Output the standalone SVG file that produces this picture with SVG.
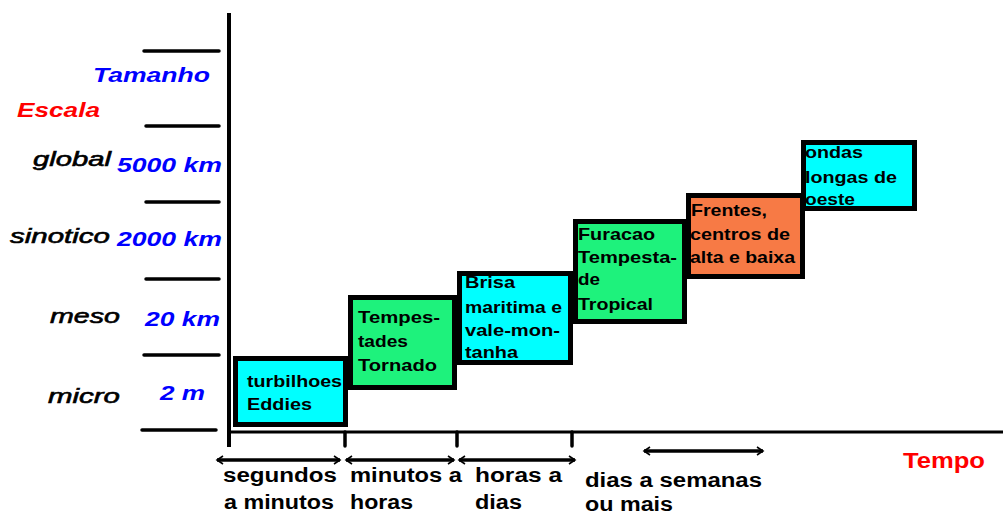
<svg xmlns="http://www.w3.org/2000/svg" width="1003" height="517" viewBox="0 0 1003 517">
<style>
.ax{stroke:#000;stroke-width:4;fill:none;stroke-linecap:butt}
.tk{stroke:#000;stroke-width:3.5;fill:none;stroke-linecap:round}
.ar{stroke:#000;stroke-width:3.5;fill:none;marker-start:url(#chev);marker-end:url(#chev)}
.box{stroke:#000;stroke-width:5}
.cy{fill:#00ffff}
.gr{fill:#1ef27c}
.or{fill:#f77a45}
.bt{font-family:"Liberation Sans",Arial,sans-serif;font-weight:bold;font-size:17px;fill:#000}
.lt{font-family:"Liberation Sans",Arial,sans-serif;font-weight:bold;font-size:20px;fill:#000}
.sc{font-family:"Liberation Sans",Arial,sans-serif;font-style:italic;font-weight:bold;font-size:20px;fill:#0000ff}
.nm{font-family:"Liberation Sans",Arial,sans-serif;font-style:italic;font-size:21px;fill:#000;stroke:#000;stroke-width:0.6}
.rd{font-family:"Liberation Sans",Arial,sans-serif;font-weight:bold;fill:#ff0000}
</style>
<defs>
<marker id="chev" viewBox="-8 -6 10 12" markerWidth="10" markerHeight="12" refX="0" refY="0" orient="auto-start-reverse" markerUnits="userSpaceOnUse">
<path d="M-6,-4 L0,0 L-6,4" fill="none" stroke="#000" stroke-width="1.6"/>
</marker>
</defs>

<g id="connectors">
<line class="ax" x1="229" y1="13" x2="229" y2="447"/>
<line class="ax" x1="229" y1="432" x2="1003" y2="432" style="stroke-width:3"/>
<line class="tk" x1="345" y1="432" x2="345" y2="446"/>
<line class="tk" x1="457" y1="432" x2="457" y2="446"/>
<line class="tk" x1="572" y1="432" x2="572" y2="446"/>
<line class="tk" x1="144" y1="51" x2="219" y2="51"/>
<line class="tk" x1="146" y1="126" x2="219" y2="126"/>
<line class="tk" x1="146" y1="202" x2="219" y2="202"/>
<line class="tk" x1="146" y1="279" x2="219" y2="279"/>
<line class="tk" x1="144" y1="355" x2="219" y2="355"/>
<line class="tk" x1="142" y1="430" x2="216" y2="430"/>
<line class="ar" x1="217" y1="460" x2="340" y2="460"/>
<line class="ar" x1="346" y1="460" x2="454" y2="460"/>
<line class="ar" x1="459" y1="460" x2="575" y2="460"/>
<line class="ar" x1="644" y1="451" x2="763" y2="451"/>
</g>

<g id="axis-labels">
<text class="sc" x="93" y="82" textLength="117" lengthAdjust="spacingAndGlyphs">Tamanho</text>
<text class="rd" x="17" y="117" font-size="20" font-style="italic" textLength="83" lengthAdjust="spacingAndGlyphs">Escala</text>
<text class="nm" x="33" y="166" textLength="78" lengthAdjust="spacingAndGlyphs">global</text>
<text class="sc" x="117" y="172" textLength="105" lengthAdjust="spacingAndGlyphs">5000 km</text>
<text class="nm" x="10" y="243" textLength="100" lengthAdjust="spacingAndGlyphs">sinotico</text>
<text class="sc" x="117" y="246" textLength="105" lengthAdjust="spacingAndGlyphs">2000 km</text>
<text class="nm" x="50" y="323" textLength="70" lengthAdjust="spacingAndGlyphs">meso</text>
<text class="sc" x="145" y="326" textLength="75" lengthAdjust="spacingAndGlyphs">20 km</text>
<text class="nm" x="48" y="403" textLength="72" lengthAdjust="spacingAndGlyphs">micro</text>
<text class="sc" x="160" y="400" textLength="45" lengthAdjust="spacingAndGlyphs">2 m</text>
<text class="rd" x="903" y="468" font-size="22" textLength="82" lengthAdjust="spacingAndGlyphs">Tempo</text>
<text class="lt" x="223" y="482" textLength="114" lengthAdjust="spacingAndGlyphs">segundos</text>
<text class="lt" x="224" y="509" textLength="110" lengthAdjust="spacingAndGlyphs">a minutos</text>
<text class="lt" x="350" y="482" textLength="112" lengthAdjust="spacingAndGlyphs">minutos a</text>
<text class="lt" x="350" y="509" textLength="63" lengthAdjust="spacingAndGlyphs">horas</text>
<text class="lt" x="475" y="482" textLength="87" lengthAdjust="spacingAndGlyphs">horas a</text>
<text class="lt" x="475" y="509" textLength="47" lengthAdjust="spacingAndGlyphs">dias</text>
<text class="lt" x="585" y="487" textLength="177" lengthAdjust="spacingAndGlyphs">dias a semanas</text>
<text class="lt" x="585" y="511" textLength="88" lengthAdjust="spacingAndGlyphs">ou mais</text>
</g>

<g id="node-turbilhoes">
<rect class="box cy" x="235.5" y="358.5" width="110" height="66"/>
<text class="bt" x="247" y="387" textLength="95" lengthAdjust="spacingAndGlyphs">turbilhoes</text>
<text class="bt" x="247" y="410" textLength="65" lengthAdjust="spacingAndGlyphs">Eddies</text>
</g>

<g id="node-tempestades">
<rect class="box gr" x="350.5" y="297.5" width="104" height="90"/>
<text class="bt" x="358" y="323" textLength="82" lengthAdjust="spacingAndGlyphs">Tempes-</text>
<text class="bt" x="358" y="347" textLength="50" lengthAdjust="spacingAndGlyphs">tades</text>
<text class="bt" x="358" y="371" textLength="79" lengthAdjust="spacingAndGlyphs">Tornado</text>
</g>

<g id="node-brisa">
<rect class="box cy" x="459.5" y="273.5" width="111" height="89"/>
<text class="bt" x="465" y="288" textLength="50" lengthAdjust="spacingAndGlyphs">Brisa</text>
<text class="bt" x="465" y="313" textLength="97" lengthAdjust="spacingAndGlyphs">maritima e</text>
<text class="bt" x="465" y="336" textLength="95" lengthAdjust="spacingAndGlyphs">vale-mon-</text>
<text class="bt" x="465" y="358" textLength="53" lengthAdjust="spacingAndGlyphs">tanha</text>
</g>

<g id="node-furacao">
<rect class="box gr" x="575.5" y="221.5" width="109" height="100"/>
<text class="bt" x="578" y="240" textLength="77" lengthAdjust="spacingAndGlyphs">Furacao</text>
<text class="bt" x="578" y="263" textLength="99" lengthAdjust="spacingAndGlyphs">Tempesta-</text>
<text class="bt" x="578" y="285" textLength="22" lengthAdjust="spacingAndGlyphs">de</text>
<text class="bt" x="578" y="310" textLength="75" lengthAdjust="spacingAndGlyphs">Tropical</text>
</g>

<g id="node-frentes">
<rect class="box or" x="688.5" y="195.5" width="114" height="81"/>
<text class="bt" x="691" y="216" textLength="76" lengthAdjust="spacingAndGlyphs">Frentes,</text>
<text class="bt" x="690" y="240" textLength="100" lengthAdjust="spacingAndGlyphs">centros de</text>
<text class="bt" x="690" y="263" textLength="105" lengthAdjust="spacingAndGlyphs">alta e baixa</text>
</g>

<g id="node-ondas">
<rect class="box cy" x="803.5" y="142.5" width="111" height="66"/>
<text class="bt" x="805" y="158" textLength="58" lengthAdjust="spacingAndGlyphs">ondas</text>
<text class="bt" x="805" y="183" textLength="92" lengthAdjust="spacingAndGlyphs">longas de</text>
<text class="bt" x="805" y="205" textLength="50" lengthAdjust="spacingAndGlyphs">oeste</text>
</g>
</svg>
